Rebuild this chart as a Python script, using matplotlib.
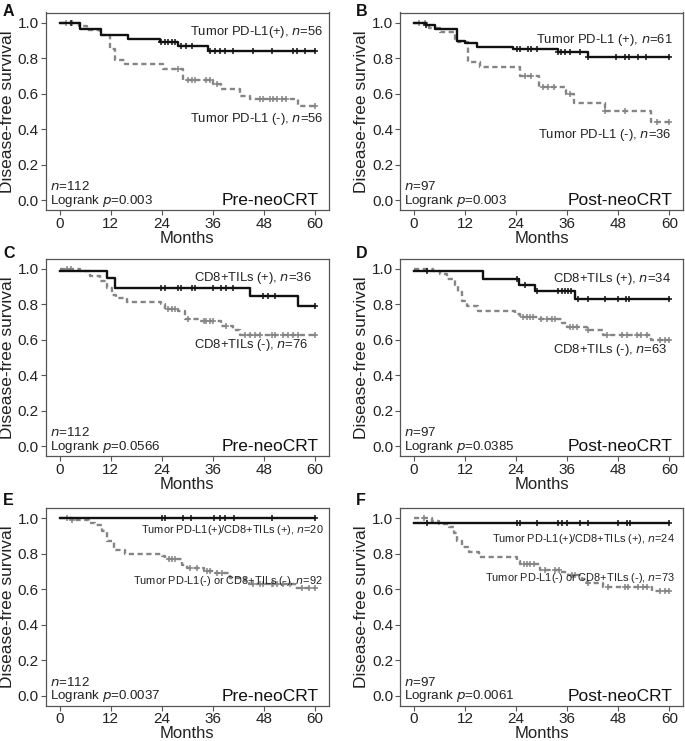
import numpy as np
import matplotlib
matplotlib.use("Agg")
import matplotlib.pyplot as plt

plt.rcParams['font.family'] = ['Liberation Sans', 'DejaVu Sans']

# ---------------- data ----------------
# Panel A (Pre-neoCRT, tumor PD-L1)
A_pos_t = [0, 4.7, 9.8, 16, 23.5, 27.8, 34.9, 60]
A_pos_s = [1.0, 0.966, 0.93, 0.91, 0.89, 0.87, 0.844, 0.844]
A_pos_c = [2.7, 23.9, 24.7, 25.5, 26.3, 27.1, 28.6, 29.8, 31, 35.3, 36.5, 37.6, 38.8,
           40.8, 45.5, 49.8, 54.9, 55.7, 57.6, 60]
A_neg_t = [0, 4.5, 6.3, 9.4, 11.8, 12.9, 15.3, 24.3, 29, 36.1, 38, 42.4, 44.7, 56.1, 60]
A_neg_s = [1.0, 0.98, 0.96, 0.93, 0.85, 0.79, 0.77, 0.74, 0.68, 0.655, 0.63, 0.59, 0.57, 0.53, 0.53]
A_neg_c = [1.5, 3, 27.9, 30.2, 31, 31.8, 34.5, 35.3, 36.9, 47, 47.8, 49.4, 50.2, 51, 52.2, 53.3, 60]

# Panel B (Post-neoCRT, tumor PD-L1)
B_pos_t = [0, 2.8, 4.9, 10, 12, 14.7, 23.3, 33.8, 40.9, 60]
B_pos_s = [1.0, 0.985, 0.967, 0.90, 0.885, 0.865, 0.85, 0.835, 0.81, 0.81]
B_pos_c = [2.9, 24.1, 24.8, 26.8, 27.6, 28.8, 33.9, 34.6, 35.4, 36.6, 38.9, 41.0, 47.5,
           49.5, 50.6, 52.6, 54.5, 60]
B_neg_t = [0, 3.5, 6, 9.6, 10.4, 12.7, 15.5, 24.8, 29.4, 35.8, 37.7, 44.8, 55.7, 60]
B_neg_s = [1.0, 0.97, 0.95, 0.91, 0.89, 0.78, 0.75, 0.70, 0.64, 0.60, 0.55, 0.505, 0.44, 0.44]
B_neg_c = [1.2, 2.5, 26, 27.6, 30.4, 31.6, 32.8, 36.6, 45.0, 49.5, 57.0, 60]

# Panel C (Pre-neoCRT, CD8+ TILs)
C_pos_t = [0, 11, 12.9, 44.7, 56, 60]
C_pos_s = [0.99, 0.95, 0.89, 0.845, 0.79, 0.79]
C_pos_c = [23.9, 24.7, 27.8, 28.6, 31, 31.8, 36.1, 38, 39.2, 40.8, 47.8, 49, 50.6, 60]
C_neg_t = [0, 4.7, 7, 9.4, 11, 12.2, 13.3, 15.7, 23.9, 24.7, 27.8, 29.4, 32.7, 38, 40.8, 42.4, 60]
C_neg_s = [1.0, 0.985, 0.96, 0.93, 0.89, 0.855, 0.835, 0.815, 0.80, 0.775, 0.76, 0.72,
           0.705, 0.68, 0.655, 0.625, 0.625]
C_neg_c = [1.6, 2.7, 25.5, 26.3, 27.1, 30.2, 33.8, 34.5, 35.3, 36.1, 39.2, 43.6, 44.7,
           45.9, 47, 49.8, 50.6, 52.5, 53.7, 54.9, 56, 60]

# Panel D (Post-neoCRT, CD8+ TILs)
D_pos_t = [0, 16.1, 24.7, 28.4, 37.8, 60]
D_pos_s = [0.985, 0.94, 0.91, 0.875, 0.83, 0.83]
D_pos_c = [3.1, 24.1, 26.1, 28.8, 33.9, 34.7, 35.5, 36.2, 37.0, 38.6, 40.9, 44.9, 48.0,
           49.9, 50.6, 60]
D_neg_t = [0, 4.5, 6.1, 7.7, 9.6, 10.4, 11.2, 12.4, 15.1, 23.7, 24.9, 29.6, 34.7, 35.9,
           40.6, 44.5, 55.8, 60]
D_neg_s = [1.0, 0.985, 0.97, 0.94, 0.91, 0.87, 0.82, 0.79, 0.76, 0.745, 0.73, 0.715,
           0.695, 0.675, 0.655, 0.625, 0.60, 0.60]
D_neg_c = [25.7, 26.5, 27.2, 28.0, 29.8, 31.2, 32.4, 33.1, 36.7, 37.4, 38.2, 41, 45.3,
           48.8, 50, 52.3, 53.4, 54.7, 57.8, 59, 60]

# Panel E (Pre-neoCRT, combined)
E_pos_t = [0, 60]
E_pos_s = [1.0, 1.0]
E_pos_c = [24, 24.8, 29, 30.8, 36.2, 37.7, 38.9, 40.9, 49.8, 60]
E_neg_t = [0, 2.9, 6.8, 8.4, 9.9, 11.1, 12.7, 15.4, 24, 24.8, 28.7, 29.9, 33.8, 36.2,
           40, 43.6, 44.4, 55.3, 60]
E_neg_s = [1.0, 0.99, 0.975, 0.965, 0.93, 0.87, 0.82, 0.80, 0.785, 0.77, 0.735, 0.72,
           0.705, 0.69, 0.665, 0.645, 0.63, 0.605, 0.605]
E_neg_c = [1.7, 2.9, 25.6, 26.4, 27.2, 30.7, 32.2, 34.6, 35.4, 36.9, 38.1, 45.5, 47.1,
           47.9, 49.8, 50.2, 51, 52.6, 54.1, 56.9, 58.5, 60]

# Panel F (Post-neoCRT, combined)
F_pos_t = [0, 60]
F_pos_s = [0.976, 0.976]
F_pos_c = [3, 24.1, 25, 28.9, 33.8, 34.8, 35.9, 38.9, 40.9, 47.9, 50, 50.8, 60]
F_neg_t = [0, 4.3, 5.9, 8.2, 9.4, 10.2, 11.3, 12.9, 15.2, 24.2, 25, 29.7, 34.4, 36.3,
           39.5, 40.6, 44.5, 55.9, 60]
F_neg_s = [1.0, 0.985, 0.97, 0.95, 0.92, 0.875, 0.84, 0.81, 0.78, 0.76, 0.74, 0.71,
           0.70, 0.68, 0.66, 0.635, 0.615, 0.59, 0.59]
F_neg_c = [2.3, 25.8, 26.6, 27.3, 28.1, 30.9, 33.2, 34.0, 37.1, 37.9, 41.0, 45.7, 49.6,
           50.4, 52.7, 53.9, 54.7, 57.8, 58.9, 60]

panel_letters = ['A', 'B', 'C', 'D', 'E', 'F']
pos_labels = ['Tumor PD-L1(+), $\\it{n}$=56', 'Tumor PD-L1 (+), $\\it{n}$=61',
              'CD8+TILs (+), $\\it{n}$=36', 'CD8+TILs (+), $\\it{n}$=34',
              'Tumor PD-L1(+)/CD8+TILs (+), $\\it{n}$=20',
              'Tumor PD-L1(+)/CD8+TILs (+), $\\it{n}$=24']
neg_labels = ['Tumor PD-L1 (-), $\\it{n}$=56', 'Tumor PD-L1 (-), $\\it{n}$=36',
              'CD8+TILs (-), $\\it{n}$=76', 'CD8+TILs (-), $\\it{n}$=63',
              'Tumor PD-L1(-) or CD8+TILs (-), $\\it{n}$=92',
              'Tumor PD-L1(-) or CD8+TILs (-), $\\it{n}$=73']
n_totals = ['112', '97', '112', '97', '112', '97']
p_values = ['0.003', '0.003', '0.0566', '0.0385', '0.0037', '0.0061']
phases = ['Pre-neoCRT', 'Post-neoCRT'] * 3
x_ticks = [0, 12, 24, 36, 48, 60]
y_ticks = [0.0, 0.2, 0.4, 0.6, 0.8, 1.0]

curves = [
    (A_pos_t, A_pos_s, A_pos_c, A_neg_t, A_neg_s, A_neg_c),
    (B_pos_t, B_pos_s, B_pos_c, B_neg_t, B_neg_s, B_neg_c),
    (C_pos_t, C_pos_s, C_pos_c, C_neg_t, C_neg_s, C_neg_c),
    (D_pos_t, D_pos_s, D_pos_c, D_neg_t, D_neg_s, D_neg_c),
    (E_pos_t, E_pos_s, E_pos_c, E_neg_t, E_neg_s, E_neg_c),
    (F_pos_t, F_pos_s, F_pos_c, F_neg_t, F_neg_s, F_neg_c),
]

# label positions (axes fraction): (pos_x, pos_y, neg_x, neg_y, fontsize)
label_pos = [
    (0.981, 0.902, 0.981, 0.461, 9.4),
    (0.962, 0.862, 0.958, 0.378, 9.4),
    (0.938, 0.902, 0.926, 0.561, 9.4),
    (0.955, 0.894, 0.943, 0.535, 9.4),
    (0.981, 0.891, 0.977, 0.630, 7.9),
    (0.971, 0.844, 0.971, 0.648, 7.9),
]

# ---------------- figure ----------------
W, H = 685, 741
fig = plt.figure(figsize=(W / 100, H / 100), dpi=100)

col_left = [45.7, 400]
col_w = 283.3
row_top = [12.5, 258.5, 508]
row_h = 197.5
letter_top = [4, 245.5, 493]
letter_x = [3, 356]

BLACK = '#111111'
GRAY = '#858585'
SPINE = '#555555'


def surv_at(t, s, times):
    t = np.asarray(t)
    s = np.asarray(s)
    idx = np.searchsorted(t, np.asarray(times), side='right') - 1
    idx = np.clip(idx, 0, len(s) - 1)
    return s[idx]


for i in range(6):
    r, c = divmod(i, 2)
    left = col_left[c] / W
    bottom = 1 - (row_top[r] + row_h) / H
    ax = fig.add_axes([left, bottom, col_w / W, row_h / H])
    pt, ps, pc, nt, ns, nc = curves[i]

    ax.step(nt, ns, where='post', color=GRAY, lw=1.7, ls=(0, (2.2, 1.5)), zorder=2)
    ax.plot(nc, surv_at(nt, ns, nc), ls='none', marker='+', ms=4.2, mew=1.1,
            color=GRAY, zorder=2)
    ax.step(pt, ps, where='post', color=BLACK, lw=1.7, zorder=3)
    ax.plot(pc, surv_at(pt, ps, pc), ls='none', marker='+', ms=4.2, mew=1.1,
            color=BLACK, zorder=3)

    ax.set_xlim(-3.3, 63.3)
    ax.set_ylim(-0.054, 1.058)
    ax.set_xticks(x_ticks)
    ax.set_yticks(y_ticks)
    ax.set_yticklabels(['%.1f' % v for v in y_ticks])
    ax.tick_params(direction='out', length=3.5, width=0.8, color=SPINE,
                   labelsize=11, labelcolor='#222222', pad=1.5)
    for sp in ax.spines.values():
        sp.set_color(SPINE)
        sp.set_linewidth(0.9)
    ax.set_xlabel('Months', fontsize=12, color='#222222', labelpad=0)
    ax.set_ylabel('Disease-free survival', fontsize=12.5, color='#222222', labelpad=2)

    px, py, nx, ny, fs = label_pos[i]
    ax.text(px, py, pos_labels[i], transform=ax.transAxes, ha='right', va='center',
            fontsize=fs, color='#222222')
    ax.text(nx, ny, neg_labels[i], transform=ax.transAxes, ha='right', va='center',
            fontsize=fs, color='#222222')
    ax.text(0.014, 0.118, '$\\it{n}$=' + n_totals[i], transform=ax.transAxes,
            ha='left', va='center', fontsize=9.6, color='#222222')
    ax.text(0.014, 0.046, 'Logrank $\\it{p}$=' + p_values[i], transform=ax.transAxes,
            ha='left', va='center', fontsize=9.6, color='#222222')
    ax.text(0.963, 0.046, phases[i], transform=ax.transAxes, ha='right', va='center',
            fontsize=12.5, color='#111111')

    fig.text(letter_x[c] / W, 1 - letter_top[r] / H, panel_letters[i], fontsize=11.5,
             fontweight='bold', ha='left', va='top', color='#111111')

fig.savefig('out.png', dpi=100)
